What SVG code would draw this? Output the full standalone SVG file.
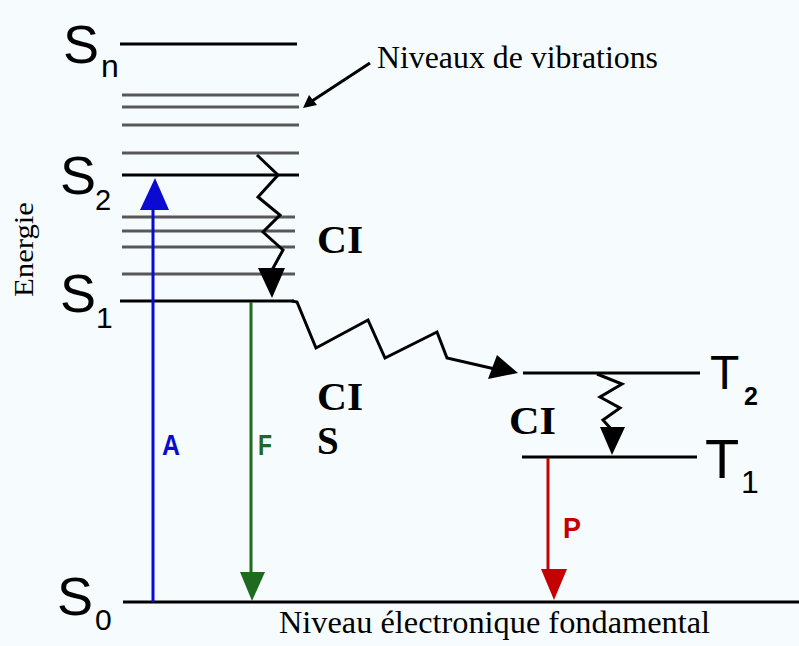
<svg xmlns="http://www.w3.org/2000/svg" width="799" height="646" viewBox="0 0 799 646">
<style>
.lvl{stroke:#000;stroke-width:3;fill:none}
.vib{stroke:#585858;stroke-width:3;fill:none}
.wave{stroke:#000;stroke-width:3;fill:none;stroke-linejoin:miter}
.sym{font-family:'Liberation Sans',Arial,sans-serif;fill:#000}
.serif{font-family:'Liberation Serif','Times New Roman',serif;fill:#000}
.bold{font-family:'Liberation Serif','Times New Roman',serif;font-weight:bold;font-size:39px;fill:#000}
.lab{font-family:'Liberation Sans',Arial,sans-serif;font-size:29px;font-weight:bold}
</style>
<rect width="799" height="646" fill="#f6fcfd"/>

<g id="level-Sn">
<line class="lvl" x1="120" y1="44" x2="297" y2="44"/>
<text class="sym" x="63" y="63" font-size="54">S</text>
<text class="sym" x="101" y="77" font-size="32">n</text>
</g>
<g id="vibrations-upper">
<line class="vib" x1="122" y1="95" x2="299" y2="95"/>
<line class="vib" x1="122" y1="107" x2="299" y2="107"/>
<line class="vib" x1="122" y1="125" x2="299" y2="125"/>
<line class="vib" x1="122" y1="153" x2="299" y2="153"/>
</g>
<g id="level-S2">
<line class="lvl" x1="122" y1="175" x2="299" y2="175"/>
<text class="sym" x="60" y="194" font-size="54">S</text>
<text class="sym" x="95" y="210" font-size="29">2</text>
</g>
<g id="vibrations-lower">
<line class="vib" x1="122" y1="217" x2="295" y2="217"/>
<line class="vib" x1="122" y1="231" x2="295" y2="231"/>
<line class="vib" x1="122" y1="247" x2="295" y2="247"/>
<line class="vib" x1="122" y1="274" x2="295" y2="274"/>
</g>
<g id="level-S1">
<line class="lvl" x1="120" y1="301" x2="294" y2="301"/>
<text class="sym" x="60" y="312" font-size="54">S</text>
<text class="sym" x="96" y="328" font-size="30">1</text>
</g>
<g id="level-S0">
<line class="lvl" x1="123" y1="602" x2="799" y2="602"/>
<text class="sym" x="57" y="615" font-size="54">S</text>
<text class="sym" x="95" y="630" font-size="30">0</text>
</g>
<g id="level-T2">
<line class="lvl" x1="523" y1="373" x2="700" y2="373"/>
<text class="sym" x="710" y="389" font-size="48">T</text>
<text class="sym" x="744" y="405" font-size="25" font-weight="bold">2</text>
</g>
<g id="level-T1">
<line class="lvl" x1="522" y1="457" x2="697" y2="457"/>
<text class="sym" x="705" y="478" font-size="56">T</text>
<text class="sym" x="741" y="493" font-size="32">1</text>
</g>

<g id="connectors">
<line x1="153" y1="602" x2="153" y2="205" stroke="#0a0ad2" stroke-width="3"/>
<polygon points="155,178 140,210 169,210" fill="#0a0ad2"/>
<line x1="251" y1="302" x2="251" y2="576" stroke="#1e6a1e" stroke-width="3"/>
<polygon points="240,572 265,572 252,601" fill="#1e6a1e"/>
<line x1="548" y1="458" x2="548" y2="572" stroke="#c40000" stroke-width="3"/>
<polygon points="541,569 567,569 554,600" fill="#c40000"/>
<polyline class="wave" points="257,155 278,175 258,197 280,215 263,232 283,250 272,270"/>
<polygon points="258,268 285,268 272,298" fill="#000"/>
<polyline class="wave" points="292,301 297,302 316,348 368,320 385,358 437,332 447,358 495,369"/>
<polygon points="518,373 488,379 497,355" fill="#000"/>
<polyline class="wave" points="597,374 622,384 600,397 620,408 603,420 612,430"/>
<polygon points="600,427 625,427 612,455" fill="#000"/>
<line x1="370" y1="63" x2="312" y2="101" stroke="#000" stroke-width="3"/>
<polygon points="303,108 309,95 317,105" fill="#000"/>
</g>

<g id="labels">
<text class="serif" x="377" y="68" font-size="31" textLength="281" lengthAdjust="spacingAndGlyphs">Niveaux de vibrations</text>
<text class="serif" x="279" y="633" font-size="31" textLength="431" lengthAdjust="spacingAndGlyphs">Niveau électronique fondamental</text>
<text class="serif" transform="translate(33,297) rotate(-90)" font-size="28" textLength="95" lengthAdjust="spacingAndGlyphs">Energie</text>
<text class="bold" x="317" y="253" textLength="46" lengthAdjust="spacingAndGlyphs">CI</text>
<text class="bold" x="317" y="410" textLength="46" lengthAdjust="spacingAndGlyphs">CI</text>
<text class="bold" x="317" y="454">S</text>
<text class="bold" x="509" y="434" textLength="47" lengthAdjust="spacingAndGlyphs">CI</text>
<text class="lab" x="162" y="455" fill="#0a0ad2" textLength="18" lengthAdjust="spacingAndGlyphs">A</text>
<text class="lab" x="258" y="455" fill="#1e6a1e" textLength="14" lengthAdjust="spacingAndGlyphs">F</text>
<text class="lab" x="563" y="538" fill="#c40000" textLength="18" lengthAdjust="spacingAndGlyphs">P</text>
</g>
</svg>
